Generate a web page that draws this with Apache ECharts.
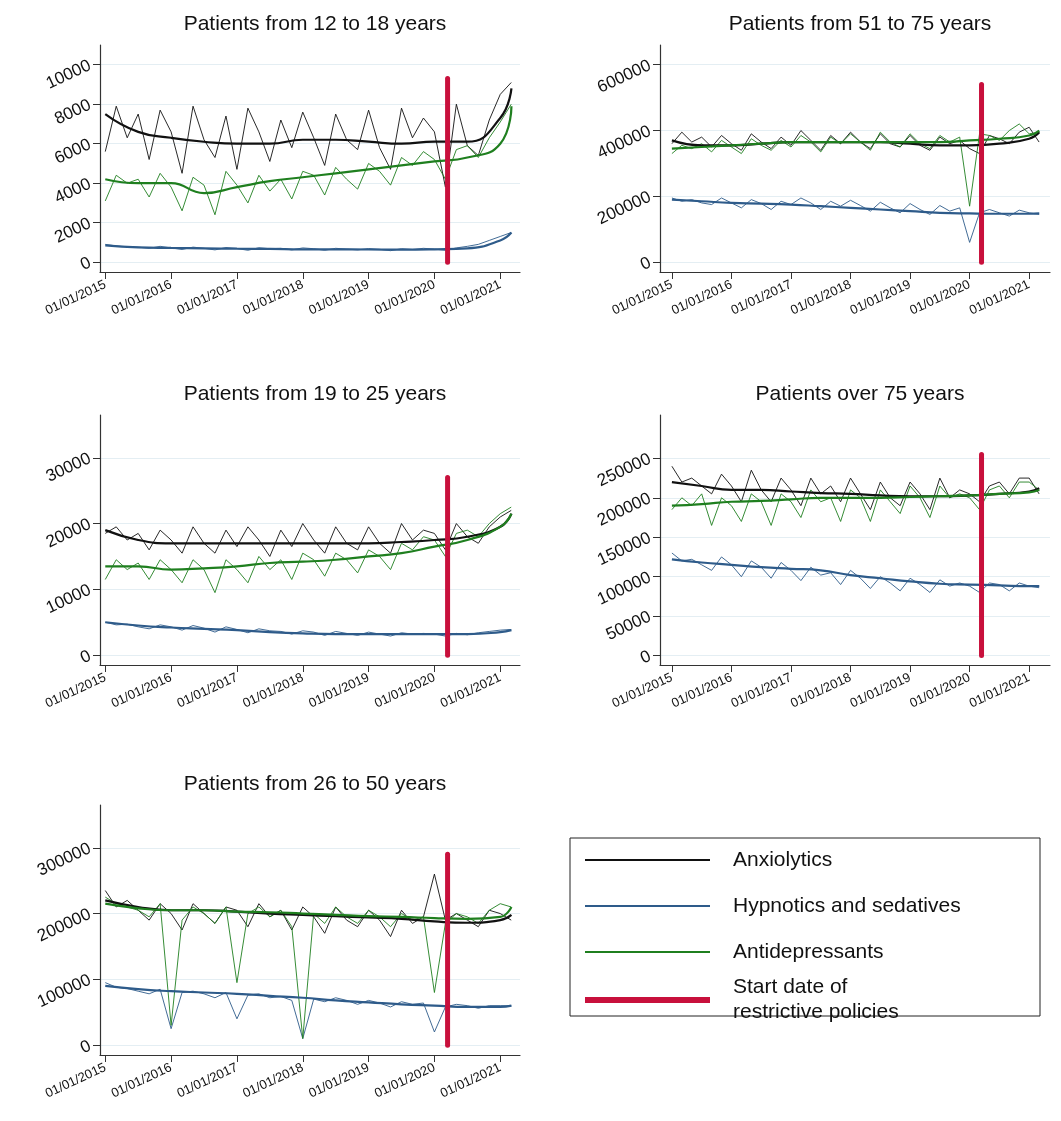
<!DOCTYPE html>
<html><head><meta charset="utf-8">
<script src="https://cdn.jsdelivr.net/npm/echarts@6/dist/echarts.min.js"></script>
<style>html,body{margin:0;background:#fff}#c{width:1061px;height:1121px}</style>
</head><body><div id="c"></div>
<script>
// raw values every 2 months, Jan 2015 .. Mar 2021 (38 points)
var rawMonths = [];
for (var m = 0; m <= 74; m += 2) rawMonths.push(2015 + m / 12);
// trend values every half year, plus Mar 2021
var trendX = [2015,2015.5,2016,2016.5,2017,2017.5,2018,2018.5,2019,2019.5,2020,2020.5,2021,2021.17];
var policyX = 2020.2;
var yearTicks = [2015,2016,2017,2018,2019,2020,2021];

// 12-18 years
var p1Anx = [5600,7900,6300,7500,5200,7700,6600,4500,7900,6200,5300,7400,4700,7800,6600,5100,7200,5800,7600,6300,4900,7500,6200,5700,7700,5800,4700,7800,6300,7300,6600,3800,8000,5900,5400,7200,8500,9100];
var p1Ant = [3100,4400,4000,4200,3300,4500,3800,2600,4300,3900,2400,4600,3900,3000,4400,3600,4200,3200,4600,4400,3400,4800,4200,3700,5000,4600,3900,5300,4900,5600,5200,4200,5700,5900,5300,6300,7100,8000];
var p1Hyp = [900,820,780,760,700,800,720,640,760,700,620,740,690,600,730,680,700,620,720,680,600,700,660,620,690,650,580,680,640,700,660,600,720,800,900,1100,1300,1500];
var p1AnxT = [7500,6600,6300,6100,6000,6000,6200,6200,6100,6000,6100,6100,7300,8800];
var p1AntT = [4200,4000,4000,3500,3800,4100,4300,4500,4700,4900,5100,5300,6000,7900];
var p1HypT = [850,750,720,700,680,670,650,650,640,630,650,700,1100,1500];

// 51-75 years (thousands)
var p2Anx = [360,395,365,380,350,385,360,340,390,365,345,380,355,400,370,340,385,360,395,365,345,390,360,350,385,355,340,380,360,370,345,330,385,375,360,395,410,365];
var p2Ant = [330,355,345,360,335,370,350,330,375,355,340,370,350,385,365,335,380,360,390,365,340,395,365,350,390,360,345,385,365,380,170,390,385,370,400,420,390,395];
var p2Hyp = [195,185,190,180,175,195,180,165,190,178,160,185,175,195,180,160,185,170,188,172,155,182,165,150,178,160,145,172,155,165,60,150,160,150,140,158,150,145];
var p2AnxT = [370,355,355,360,365,365,365,365,360,355,355,360,375,395];
var p2AntT = [345,350,355,360,365,365,365,365,365,365,370,375,385,400];
var p2HypT = [190,185,180,178,175,170,165,160,155,150,148,147,147,148];

// 19-25 years
var p3Anx = [18500,19500,17500,18500,16000,19000,17500,15500,19500,17000,15500,19000,16500,19500,17500,15000,19000,16500,20000,17500,15500,19500,17000,16000,19500,17000,15500,20000,17500,19000,18500,16000,20000,18000,17000,19500,21000,22000];
var p3Ant = [11500,14500,13000,14000,11500,14500,13000,11000,14500,13000,9500,14500,13000,11000,15000,13000,14500,11500,15500,14500,12000,15500,14500,12500,16000,15000,13000,17000,16000,18000,17500,15000,18500,19000,18000,20000,21500,22500];
var p3Hyp = [5000,4600,4700,4300,4000,4600,4300,3800,4500,4100,3500,4300,3900,3400,4000,3700,3600,3200,3700,3500,3000,3600,3300,3000,3500,3200,2900,3400,3200,3300,3200,2900,3300,3100,3400,3600,3800,3900];
var p3AnxT = [19000,17500,17000,17000,17000,17000,17000,17000,17000,17200,17500,18000,19500,21500];
var p3AntT = [13500,13500,13000,13200,13500,14000,14200,14500,15000,15500,16500,17500,19500,21500];
var p3HypT = [5000,4500,4200,4000,3800,3500,3300,3200,3200,3200,3200,3200,3500,3800];

// over 75 years (thousands)
var p4Anx = [240,220,225,215,205,230,215,195,235,210,195,225,210,190,225,205,215,195,225,205,185,220,200,190,220,205,185,225,200,210,205,195,215,220,205,225,225,205];
var p4Ant = [185,200,190,205,165,200,190,170,205,195,165,205,195,175,210,195,200,170,210,200,170,210,195,180,215,200,175,215,200,205,200,185,210,215,200,220,220,210];
var p4Hyp = [130,120,122,115,108,125,115,100,120,112,98,118,108,95,112,102,105,90,108,98,85,100,92,82,98,90,80,96,88,92,88,80,92,90,82,92,88,86];
var p4AnxT = [220,215,210,210,208,206,205,203,202,202,203,205,208,212];
var p4AntT = [190,192,195,196,198,200,200,200,201,202,203,205,207,210];
var p4HypT = [122,118,115,112,110,108,102,98,94,91,90,89,88,88];

// 26-50 years (thousands)
var p5Anx = [235,210,220,205,190,215,200,175,215,200,185,210,205,180,215,195,205,175,210,195,170,210,190,180,205,190,165,205,185,195,260,190,200,190,180,205,200,190];
var p5Ant = [225,215,210,205,195,215,30,190,210,200,185,210,95,200,210,195,205,180,10,200,185,210,195,185,205,195,180,200,190,195,80,185,200,195,185,205,215,210];
var p5Hyp = [95,88,86,82,78,85,25,80,82,78,72,80,40,76,78,72,74,68,10,70,66,72,68,62,68,64,58,66,62,64,20,58,62,60,56,60,60,60];
var p5AnxT = [220,210,205,205,203,200,198,196,194,192,188,186,190,198];
var p5AntT = [215,208,205,205,203,202,200,198,196,195,193,192,195,210];
var p5HypT = [90,85,82,80,78,75,72,68,65,62,60,58,58,60];

var cAnx = '#111111', cHyp = '#2e5b8a', cAnt = '#1f7f1f', cRed = '#c8103c';

var panels = [
  {title: 'Patients from 12 to 18 years', l: 100, t: 45, w: 420, h: 227, min: -500, max: 11000, ticks: [0,2000,4000,6000,8000,10000], k: 1, top: 9300,
   xmin: 2014.92, xmax: 2021.3, d: [p1Anx, p1Hyp, p1Ant, p1AnxT, p1HypT, p1AntT]},
  {title: 'Patients from 51 to 75 years', l: 660, t: 45, w: 390, h: 227, min: -30, max: 660, ticks: [0,200,400,600], k: 1000, top: 540,
   xmin: 2014.8, xmax: 2021.35, d: [p2Anx, p2Hyp, p2Ant, p2AnxT, p2HypT, p2AntT]},
  {title: 'Patients from 19 to 25 years', l: 100, t: 415, w: 420, h: 250, min: -1500, max: 36500, ticks: [0,10000,20000,30000], k: 1, top: 27000,
   xmin: 2014.92, xmax: 2021.3, d: [p3Anx, p3Hyp, p3Ant, p3AnxT, p3HypT, p3AntT]},
  {title: 'Patients over 75 years', l: 660, t: 415, w: 390, h: 250, min: -12, max: 305, ticks: [0,50,100,150,200,250], k: 1000, top: 255,
   xmin: 2014.8, xmax: 2021.35, d: [p4Anx, p4Hyp, p4Ant, p4AnxT, p4HypT, p4AntT]},
  {title: 'Patients from 26 to 50 years', l: 100, t: 805, w: 420, h: 250, min: -15, max: 365, ticks: [0,100,200,300], k: 1000, top: 290,
   xmin: 2014.92, xmax: 2021.3, d: [p5Anx, p5Hyp, p5Ant, p5AnxT, p5HypT, p5AntT]}
];

function pairs(xs, ys) {
  return ys.map(function (v, i) { return [xs[i], v]; });
}

var grids = [], xAxes = [], yAxes = [], series = [], titles = [];
var colors = [cAnx, cHyp, cAnt];
panels.forEach(function (p, i) {
  grids.push({left: p.l, top: p.t, width: p.w, height: p.h});
  titles.push({text: p.title, left: p.l + p.w / 2, top: p.t - 36, textAlign: 'center',
    textStyle: {fontFamily: 'Liberation Sans', fontSize: 21, fontWeight: 'normal', color: '#111'}});
  xAxes.push({type: 'value', gridIndex: i, min: p.xmin, max: p.xmax, splitLine: {show: false},
    axisLine: {onZero: false, lineStyle: {color: '#333', width: 1.2}},
    axisTick: {show: true, inside: false, customValues: yearTicks, length: 7, lineStyle: {color: '#333'}},
    axisLabel: {customValues: yearTicks, rotate: 25, margin: 12, fontSize: 13, color: '#111', fontFamily: 'Liberation Sans',
      formatter: function (v) { return '01/01/' + Math.round(v); }}});
  yAxes.push({type: 'value', gridIndex: i, min: p.min, max: p.max,
    splitLine: {show: true, customValues: p.ticks, lineStyle: {color: '#e4eef3', width: 1}},
    axisLine: {show: true, lineStyle: {color: '#333', width: 1.2}},
    axisTick: {show: true, inside: false, customValues: p.ticks, length: 7, lineStyle: {color: '#333'}},
    axisLabel: {customValues: p.ticks, rotate: 25, margin: 10, fontSize: 17, color: '#111', fontFamily: 'Liberation Sans',
      formatter: function (v) { return String(Math.round(v * p.k)); }}});
  for (var j = 0; j < 3; j++) {
    series.push({type: 'line', xAxisIndex: i, yAxisIndex: i, data: pairs(rawMonths, p.d[j]), symbol: 'none',
      lineStyle: {color: colors[j], width: 0.9}, z: 2, silent: true});
  }
  for (var j = 0; j < 3; j++) {
    series.push({type: 'line', xAxisIndex: i, yAxisIndex: i, data: pairs(trendX, p.d[j + 3]), symbol: 'none', smooth: 0.5,
      lineStyle: {color: colors[j], width: 2.2}, z: 3, silent: true});
  }
  series.push({type: 'line', xAxisIndex: i, yAxisIndex: i, data: [[policyX, 0], [policyX, p.top]], symbol: 'none',
    lineStyle: {color: cRed, width: 5, cap: 'round'}, z: 4, silent: true});
});

var legendItems = [
  {y: 860, c: cAnx, w: 2, t: 'Anxiolytics'},
  {y: 906, c: cHyp, w: 2, t: 'Hypnotics and sedatives'},
  {y: 952, c: cAnt, w: 2, t: 'Antidepressants'},
  {y: 1000, c: cRed, w: 6, t: 'Start date of\nrestrictive policies'}
];
var graphic = [{type: 'rect', shape: {x: 570, y: 838, width: 470, height: 178}, style: {fill: '#fff', stroke: '#222', lineWidth: 1}}];
legendItems.forEach(function (it) {
  graphic.push({type: 'line', shape: {x1: 585, y1: it.y, x2: 710, y2: it.y}, style: {stroke: it.c, lineWidth: it.w}});
  graphic.push({type: 'text', x: 733, y: it.y, style: {text: it.t, fill: '#111', fontSize: 21, fontFamily: 'Liberation Sans',
    verticalAlign: 'middle', lineHeight: 25}});
});

var chart = echarts.init(document.getElementById('c'));
chart.setOption({
  animation: false,
  title: titles,
  grid: grids,
  xAxis: xAxes,
  yAxis: yAxes,
  series: series,
  graphic: graphic
});
</script></body></html>
